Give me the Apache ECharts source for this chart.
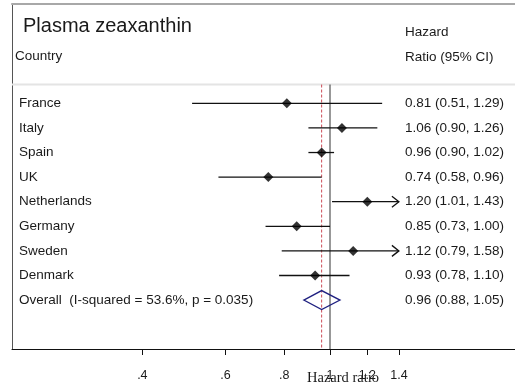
<!DOCTYPE html>
<html>
<head>
<meta charset="utf-8">
<script src="https://cdn.jsdelivr.net/npm/echarts@6/dist/echarts.min.js"></script>
<style>
  html, body { margin: 0; padding: 0; background: #fff; }
  #chart { width: 515px; height: 385px; }
</style>
</head>
<body>
<div id="chart"></div>
<script>
// Study-level hazard ratios with 95% confidence intervals
const countries   = ['France', 'Italy', 'Spain', 'UK', 'Netherlands', 'Germany', 'Sweden', 'Denmark'];
const hazardRatio = [0.81, 1.06, 0.96, 0.74, 1.20, 0.85, 1.12, 0.93];
const ciLower     = [0.51, 0.90, 0.90, 0.58, 1.01, 0.73, 0.79, 0.78];
const ciUpper     = [1.29, 1.26, 1.02, 0.96, 1.43, 1.00, 1.58, 1.10];

// Pooled estimate
const overallLabel    = 'Overall  (I-squared = 53.6%, p = 0.035)';
const overallEstimate = 0.96;
const overallLower    = 0.88;
const overallUpper    = 1.05;

// Axis ticks (log scale) and the range beyond which CIs end in an arrow
const tickValues = [0.4, 0.6, 0.8, 1, 1.2, 1.4];
const tickLabels = ['.4', '.6', '.8', '1', '1.2', '1.4'];
const clipMin = 0.4;
const clipMax = 1.4;

const FONT = '"Liberation Sans", Arial, Helvetica, sans-serif';
const TEXT = '#1a1a1a';
const ln = Math.log;
const fmt = v => v.toFixed(2);

// rows are indexed 0..n; the header separator sits a little above row 0
const overallRow = countries.length;
const separatorRow = -0.765;
const yMin = -4.04, yMax = 9.99;
const xMin = -1.5527, xMax = 0.9033;

const rowLabels = countries.concat([overallLabel]);
const rowStats = countries.map((c, i) =>
  fmt(hazardRatio[i]) + ' (' + fmt(ciLower[i]) + ', ' + fmt(ciUpper[i]) + ')'
).concat([fmt(overallEstimate) + ' (' + fmt(overallLower) + ', ' + fmt(overallUpper) + ')']);

const chart = echarts.init(document.getElementById('chart'), null, { renderer: 'canvas' });

function tickLabelFor(v) {
  let best = 0;
  tickValues.forEach((t, i) => {
    if (Math.abs(ln(t) - v) < Math.abs(ln(tickValues[best]) - v)) best = i;
  });
  return tickLabels[best];
}

chart.setOption({
  animation: false,
  backgroundColor: '#fff',
  grid: { left: 12, right: 0, top: 4, bottom: 36 },
  xAxis: [{
    type: 'value',
    min: xMin, max: xMax,
    position: 'bottom',
    splitLine: { show: false },
    axisLine: { show: true, onZero: false, lineStyle: { color: '#111', width: 1 } },
    axisTick: { show: true, length: 5, lineStyle: { color: '#111' }, customValues: tickValues.map(ln) },
    axisLabel: {
      customValues: tickValues.map(ln),
      formatter: tickLabelFor,
      margin: 20,
      fontFamily: FONT, fontSize: 12.5, color: TEXT
    }
  }, {
    type: 'value',
    min: xMin, max: xMax,
    position: 'top',
    splitLine: { show: false },
    axisLine: { show: true, onZero: false, lineStyle: { color: '#a8a8a8', width: 2 } },
    axisTick: { show: false },
    axisLabel: { show: false }
  }],
  yAxis: {
    type: 'value',
    inverse: true,
    min: yMin, max: yMax,
    position: 'left',
    splitLine: { show: false },
    axisLine: { show: true, onZero: false, lineStyle: { color: '#555', width: 1 } },
    axisTick: { show: false },
    axisLabel: { show: false }
  },
  graphic: [
    { type: 'text', left: 23, top: 16, style: { text: 'Plasma zeaxanthin', font: '20px ' + FONT, fill: TEXT } },
    { type: 'text', left: 15, top: 49, style: { text: 'Country', font: '13.5px ' + FONT, fill: TEXT } },
    { type: 'text', left: 405, top: 25, style: { text: 'Hazard', font: '13.5px ' + FONT, fill: TEXT } },
    { type: 'text', left: 405, top: 50, style: { text: 'Ratio (95% CI)', font: '13.5px ' + FONT, fill: TEXT } },
    { type: 'text', left: 307, top: 371, style: { text: 'Hazard ratio', font: '14.5px "Liberation Serif", "Times New Roman", serif', fill: TEXT } }
  ],
  series: [
    // header separator, reference lines (null effect at 1, pooled estimate) and axis ticks
    {
      type: 'custom',
      silent: true,
      clip: false,
      z: 1,
      data: [[0]],
      renderItem: function (params, api) {
        const sepL = api.coord([xMin, separatorRow]);
        const sepR = api.coord([xMax, separatorRow]);
        const top1 = api.coord([ln(1), separatorRow]);
        const bot1 = api.coord([ln(1), yMax]);
        const topO = api.coord([ln(overallEstimate), separatorRow]);
        const botO = api.coord([ln(overallEstimate), yMax]);
        const children = [
          { type: 'line', shape: { x1: sepL[0], y1: sepL[1], x2: sepR[0], y2: sepR[1] },
            style: { stroke: '#e4e4e4', lineWidth: 2 } },
          { type: 'line', shape: { x1: topO[0], y1: topO[1], x2: botO[0], y2: botO[1] },
            style: { stroke: '#cc4a55', lineWidth: 1, lineDash: [3, 2] } },
          { type: 'line', shape: { x1: top1[0], y1: top1[1], x2: bot1[0], y2: bot1[1] },
            style: { stroke: '#333', lineWidth: 1 } }
        ];
        tickValues.forEach(t => {
          const p = api.coord([ln(t), yMax]);
          const x = Math.round(p[0]) + 0.5;
          children.push({ type: 'rect', shape: { x: x - 0.5, y: p[1], width: 1, height: 6 },
            style: { fill: '#111' } });
        });
        return { type: 'group', children: children };
      }
    },
    // confidence intervals, with arrows where they run past the axis range
    {
      type: 'custom',
      silent: true,
      z: 2,
      encode: { x: [1, 2], y: 0 },
      data: countries.map((c, i) => [i, ln(ciLower[i]), ln(ciUpper[i])]),
      renderItem: function (params, api) {
        const row = api.value(0);
        const lo = api.value(1), hi = api.value(2);
        const loC = Math.max(lo, ln(clipMin));
        const hiC = Math.min(hi, ln(clipMax));
        const p1 = api.coord([loC, row]);
        const p2 = api.coord([hiC, row]);
        const style = { stroke: '#111', lineWidth: 1.3, fill: null };
        const children = [{ type: 'line', shape: { x1: p1[0], y1: p1[1], x2: p2[0], y2: p2[1] }, style: style }];
        if (hi > ln(clipMax)) {
          children.push({ type: 'polyline',
            shape: { points: [[p2[0] - 7, p2[1] - 5.5], [p2[0], p2[1]], [p2[0] - 7, p2[1] + 5.5]] },
            style: style });
        }
        if (lo < ln(clipMin)) {
          children.push({ type: 'polyline',
            shape: { points: [[p1[0] + 7, p1[1] - 5.5], [p1[0], p1[1]], [p1[0] + 7, p1[1] + 5.5]] },
            style: style });
        }
        return { type: 'group', children: children };
      }
    },
    // point estimates
    {
      type: 'scatter',
      silent: true,
      z: 3,
      symbol: 'diamond',
      symbolSize: 10,
      itemStyle: { color: '#000' },
      data: countries.map((c, i) => [ln(hazardRatio[i]), i])
    },
    // pooled estimate diamond
    {
      type: 'custom',
      silent: true,
      z: 3,
      encode: { x: [0, 1, 2], y: 3 },
      data: [[ln(overallLower), ln(overallEstimate), ln(overallUpper), overallRow]],
      renderItem: function (params, api) {
        const row = api.value(3);
        const l = api.coord([api.value(0), row]);
        const m = api.coord([api.value(1), row]);
        const r = api.coord([api.value(2), row]);
        const h = 9.5;
        return {
          type: 'polygon',
          shape: { points: [[l[0], l[1]], [m[0], m[1] - h], [r[0], r[1]], [m[0], m[1] + h]] },
          style: { stroke: '#1f2080', lineWidth: 1.3, fill: null }
        };
      }
    },
    // row labels and estimates text columns
    {
      type: 'custom',
      silent: true,
      clip: false,
      z: 4,
      encode: { y: 0 },
      data: rowLabels.map((t, i) => [i]),
      renderItem: function (params, api) {
        const i = params.dataIndex;
        const y = api.coord([0, api.value(0)])[1];
        return {
          type: 'group',
          children: [
            { type: 'text', style: { x: 19, y: y, text: rowLabels[i], font: '13.5px ' + FONT, fill: TEXT, verticalAlign: 'middle', align: 'left' } },
            { type: 'text', style: { x: 405, y: y, text: rowStats[i], font: '13.5px ' + FONT, fill: TEXT, verticalAlign: 'middle', align: 'left' } }
          ]
        };
      }
    }
  ]
});
</script>
</body>
</html>
